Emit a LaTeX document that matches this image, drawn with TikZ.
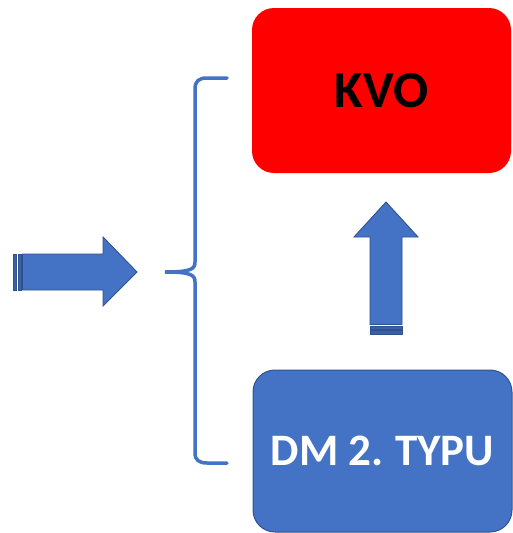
\documentclass[tikz,border=0pt]{standalone}
\usepackage{fontspec}
\setmainfont{Carlito}
\definecolor{obl}{HTML}{4472C4}
\definecolor{obd}{HTML}{2F528F}
\begin{document}
\begin{tikzpicture}[x=1pt,y=-1pt,
  box/.style={rounded corners=22pt, minimum width=259pt, inner sep=0pt, font=\bfseries},
  arrowshape/.style={fill=obl, draw=obd, line width=0.9pt, line join=miter},
  stripe/.style={fill=obl!85!black, draw=obd, line width=0.9pt},
  bracestyle/.style={draw=obl, line width=3.5pt, line cap=round}]
\useasboundingbox (0,0) rectangle (512,533);
% boxes
\node[box, fill=red, minimum height=165pt] (kvo) at (381.5,90.5)
  {\fontsize{52}{60}\selectfont KVO};
\node[box, fill=obl, draw=obd, line width=1pt, minimum height=162pt, text=white] (dm) at (382.5,451)
  {\fontsize{45}{52}\selectfont DM 2.\hspace{-2pt} TYPU};
% right arrow
\draw[stripe] (13,254) rectangle (16.5,290);
\draw[stripe] (18,254) rectangle (21,290);
\draw[arrowshape] (22.5,254) -- (103,254) -- (103,237) -- (137,272) -- (103,306) -- (103,290) -- (22.5,290) -- cycle;
% up arrow
\draw[stripe] (370,334.5) rectangle (402,330.5);
\draw[stripe] (370,329) rectangle (402,326);
\draw[arrowshape] (370,324.5) -- (370,237) -- (354,237) -- (386,202) -- (418,237) -- (402,237) -- (402,324.5) -- cycle;
% brace
\coordinate (btop) at (227,78);
\coordinate (bbot) at (227,463);
\coordinate (btip) at (165,272);
\draw[bracestyle] (btop) -- (207,78) .. controls (199,78) and (195,81) .. (195,89)
  -- (195,262) .. controls (195,269) and (191,272) .. (btip)
  .. controls (191,272) and (195,275) .. (195,282)
  -- (195,453) .. controls (195,460) and (199,463) .. (207,463) -- (bbot);
\end{tikzpicture}
\end{document}
